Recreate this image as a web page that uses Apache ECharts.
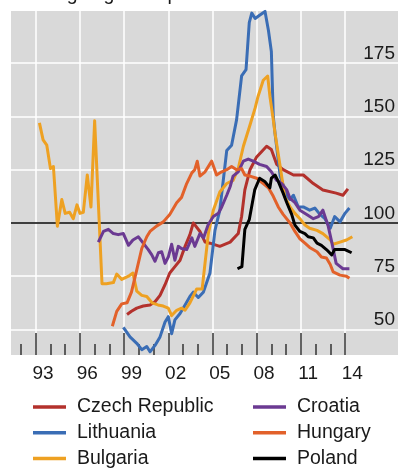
<!DOCTYPE html>
<html>
<head>
<meta charset="utf-8">
<script src="https://cdn.jsdelivr.net/npm/echarts@6/dist/echarts.min.js"></script>
<style>
  html, body { margin: 0; padding: 0; background: #ffffff; }
  #chart { width: 398px; height: 468px; }
</style>
</head>
<body>
<div id="chart"></div>
<script>
// Index values, [year, value]; the black rule marks 100.
const czechRepublic = [
  [1999.2, 57], [1999.5, 58.5], [1999.86, 60], [2000.3, 61], [2000.76, 61.5], [2001.1, 63],
  [2001.44, 66], [2001.78, 71], [2002.1, 76.5], [2002.45, 79.5], [2002.8, 82.5], [2003.14, 89],
  [2003.47, 94.5], [2003.7, 100], [2004.15, 96], [2004.5, 91], [2004.83, 90.5], [2005.5, 89],
  [2006.2, 91], [2006.75, 95], [2006.98, 103], [2007.2, 115.5], [2007.55, 125], [2008.0, 131],
  [2008.68, 136], [2009.0, 134.5], [2009.36, 127.5], [2009.8, 125], [2010.5, 122.5],
  [2011.17, 122.5], [2011.85, 118.5], [2012.5, 115.5], [2013.4, 114], [2013.86, 113], [2014.2, 116]
];
const lithuania = [
  [1998.95, 51], [1999.4, 46.5], [1999.86, 43.5], [2000.2, 40.5], [2000.54, 42], [2000.76, 39.5],
  [2001.1, 42.5], [2001.44, 46.5], [2001.78, 53.5], [2002.0, 56], [2002.23, 48], [2002.45, 54.5],
  [2002.8, 57.5], [2003.14, 61.5], [2003.47, 65.5], [2003.7, 67.5], [2004.04, 65], [2004.38, 67.5],
  [2004.83, 76.5], [2005.17, 96.5], [2005.5, 106], [2005.97, 134], [2006.3, 136.5], [2006.64, 148.5],
  [2006.98, 169], [2007.28, 172], [2007.5, 194], [2007.67, 198.5], [2007.9, 196], [2008.2, 197.5],
  [2008.57, 199.3], [2008.8, 190.5], [2009.0, 180.5], [2009.13, 150], [2009.25, 142], [2009.6, 122],
  [2010.05, 112.5], [2010.27, 111], [2010.5, 113], [2010.83, 107.5], [2011.17, 107.5], [2011.6, 106],
  [2011.95, 107], [2012.3, 104], [2012.64, 102], [2013.0, 97.5], [2013.3, 103], [2013.66, 100.5],
  [2014.0, 104.5], [2014.3, 107]
];
const bulgaria = [
  [1993.25, 147], [1993.5, 139], [1993.75, 136.5], [1994.0, 125.5], [1994.2, 126.5], [1994.47, 98.5],
  [1994.77, 111], [1995.0, 104.5], [1995.3, 105], [1995.55, 102], [1995.8, 108.5], [1996.0, 104.5],
  [1996.23, 105], [1996.5, 122.5], [1996.75, 107.5], [1997.0, 148], [1997.5, 71.5], [1997.8, 71.5],
  [1998.27, 72], [1998.5, 76], [1998.84, 73.5], [1999.3, 75], [1999.6, 76.5], [1999.86, 68],
  [2000.2, 66], [2000.54, 65.5], [2000.9, 62.5], [2001.3, 61.5], [2001.66, 61], [2002.0, 60],
  [2002.23, 56.5], [2002.57, 59], [2002.9, 60], [2003.14, 59], [2003.47, 62.5], [2003.93, 69],
  [2004.3, 69], [2004.72, 95], [2005.06, 106], [2005.5, 114.5], [2005.97, 118.5], [2006.4, 120],
  [2006.75, 125.5], [2007.1, 136], [2007.55, 146], [2007.9, 154], [2008.1, 159.5], [2008.45, 167],
  [2008.75, 169], [2008.9, 159.5], [2009.13, 148.5], [2009.25, 142], [2009.6, 126.5], [2009.9, 112.5],
  [2010.27, 107.5], [2010.6, 104.5], [2010.94, 102], [2011.28, 99], [2011.6, 97.5], [2012.1, 96.5],
  [2012.5, 95], [2013.0, 92], [2013.2, 90], [2013.66, 91], [2014.1, 92], [2014.5, 93.5]
];
const croatia = [
  [1997.25, 91], [1997.6, 96], [1997.93, 97], [1998.27, 95], [1998.6, 94.5], [1998.95, 95],
  [1999.3, 89.5], [1999.6, 92], [1999.97, 93.5], [2000.3, 90.5], [2000.64, 87.5], [2000.88, 85],
  [2001.1, 82], [2001.33, 86], [2001.55, 86.5], [2001.78, 81], [2002.0, 84], [2002.23, 90],
  [2002.45, 82.5], [2002.68, 89], [2002.9, 88], [2003.25, 87.5], [2003.6, 93], [2003.8, 89],
  [2004.15, 95], [2004.4, 93], [2004.7, 99], [2005.06, 103], [2005.4, 104.5], [2005.63, 107.5],
  [2005.97, 113], [2006.2, 117], [2006.4, 122], [2006.75, 124], [2007.1, 129], [2007.43, 130],
  [2007.77, 129], [2008.2, 127.5], [2008.68, 126.5], [2009.0, 124], [2009.36, 120], [2009.7, 118.5],
  [2010.05, 115.5], [2010.27, 111.5], [2010.6, 109.5], [2010.94, 106], [2011.4, 104], [2011.85, 102],
  [2012.2, 103], [2012.5, 106], [2012.86, 98.5], [2013.1, 91], [2013.4, 81], [2013.86, 78.5],
  [2014.3, 78.5]
];
const hungary = [
  [1998.2, 51.5], [1998.5, 58.5], [1998.84, 62], [1999.2, 62.5], [1999.5, 67.5], [1999.86, 78],
  [2000.2, 88], [2000.54, 93.5], [2000.76, 96], [2001.2, 98.5], [2001.66, 100.5], [2002.1, 104],
  [2002.57, 109.5], [2002.9, 112], [2003.25, 118.5], [2003.6, 123.5], [2003.8, 125], [2003.97, 129],
  [2004.15, 122], [2004.5, 124], [2004.95, 129], [2005.28, 122.5], [2005.63, 124], [2005.97, 125],
  [2006.3, 126.5], [2006.64, 125], [2006.98, 125.5], [2007.2, 122.5], [2007.55, 122], [2008.0, 121],
  [2008.45, 118.5], [2008.8, 116.5], [2009.13, 112.5], [2009.47, 107.5], [2009.8, 104], [2010.27, 100],
  [2010.6, 96], [2010.94, 92.5], [2011.28, 90.5], [2011.6, 88.5], [2012.1, 86.5], [2012.4, 84],
  [2012.74, 83.5], [2013.0, 80.5], [2013.2, 77], [2013.66, 75.5], [2014.1, 75], [2014.3, 74]
];
const poland = [
  [2006.7, 78.5], [2007.0, 79.5], [2007.2, 97], [2007.5, 101.5], [2007.87, 115.5], [2008.2, 121],
  [2008.55, 119.5], [2008.9, 116.5], [2009.0, 121], [2009.25, 122.5], [2009.47, 119.5], [2009.8, 114],
  [2010.05, 109.5], [2010.38, 104], [2010.6, 99], [2010.94, 96], [2011.28, 95], [2011.5, 93.5],
  [2011.85, 93], [2012.1, 90.5], [2012.4, 89.5], [2012.74, 87.5], [2013.1, 85], [2013.3, 87.5],
  [2013.66, 87.5], [2014.0, 87.5], [2014.45, 86]
];

// Axis ticks: every year short, every third year long and labelled
const minorYears = [1992, 1993, 1994, 1995, 1996, 1997, 1998, 1999, 2000, 2001, 2002, 2003,
  2004, 2005, 2006, 2007, 2008, 2009, 2010, 2011, 2012, 2013, 2014];
const majorYears = [1993, 1996, 1999, 2002, 2005, 2008, 2011, 2014];
const yearLabels = ['93', '96', '99', '02', '05', '08', '11', '14'];
const valueTicks = [50, 75, 100, 125, 150, 175];

const FONT = '"Liberation Sans", Arial, Helvetica, sans-serif';
const TEXT = '#1a1a1a';
const X_MIN = 1991.32, X_MAX = 2017.6;
const Y_MIN = 38, Y_MAX = 199.5;

const countries = [
  { name: 'Czech Republic', data: czechRepublic, color: '#b3312c' },
  { name: 'Lithuania', data: lithuania, color: '#3a6db5' },
  { name: 'Bulgaria', data: bulgaria, color: '#eea122' },
  { name: 'Croatia', data: croatia, color: '#6b3a92' },
  { name: 'Hungary', data: hungary, color: '#e2612a' },
  { name: 'Poland', data: poland, color: '#000000' }
];

// Labels sit in the middle of each labelled year
const labelPositions = majorYears.map(y => y + 0.5);

const series = countries.map((c, i) => ({
  name: c.name,
  type: 'line',
  xAxisIndex: 0,
  yAxisIndex: 0,
  data: c.data,
  showSymbol: false,
  symbol: 'none',
  color: c.color,
  lineStyle: { color: c.color, width: 3, join: 'round' },
  z: 3 + i,
  markLine: i === 0 ? {
    silent: true,
    symbol: 'none',
    label: { show: false },
    lineStyle: { color: '#000', width: 1.5, type: 'solid' },
    data: [{ yAxis: 100 }],
    z: 2
  } : undefined
}));

// Two legend columns of three rows each
const legendCommon = {
  orient: 'vertical',
  top: 397,
  height: 90,
  padding: 0,
  itemWidth: 33,
  itemHeight: 3.5,
  itemGap: 5.7,
  icon: 'rect',
  selectedMode: false,
  textStyle: { fontFamily: FONT, fontSize: 19.5, color: TEXT, lineHeight: 20, padding: [0, 0, 0, 6] }
};

const chart = echarts.init(document.getElementById('chart'), null, { renderer: 'canvas' });
chart.setOption({
  animation: false,
  backgroundColor: '#ffffff',
  title: {
    text: 'Housing in growth periods',
    left: 1,
    top: -20,
    textStyle: { fontFamily: FONT, fontSize: 19.5, fontWeight: 'normal', color: TEXT }
  },
  grid: {
    left: 11, top: 11, right: 0, bottom: 113,
    show: true, backgroundColor: '#d9d9d9', borderWidth: 0
  },
  legend: [
    Object.assign({}, legendCommon, { left: 33, data: ['Czech Republic', 'Lithuania', 'Bulgaria'] }),
    Object.assign({}, legendCommon, { left: 253, data: ['Croatia', 'Hungary', 'Poland'] })
  ],
  xAxis: [
    {
      type: 'value', position: 'bottom', min: X_MIN, max: X_MAX,
      axisLine: { show: false },
      axisTick: { show: true, inside: true, length: 11, customValues: minorYears,
        lineStyle: { color: '#333', width: 1.5 } },
      axisLabel: { show: false },
      splitLine: { show: false }
    },
    {
      type: 'value', position: 'bottom', min: X_MIN, max: X_MAX,
      axisLine: { show: false },
      axisTick: { show: true, inside: true, length: 22, customValues: majorYears,
        lineStyle: { color: '#333', width: 1.5 } },
      axisLabel: {
        show: true, customValues: labelPositions, margin: 9,
        fontFamily: FONT, fontSize: 19, color: TEXT,
        formatter: v => yearLabels[labelPositions.indexOf(v)] || ''
      },
      splitLine: { show: true, lineStyle: { color: '#ffffff', width: 1.5 } }
    }
  ],
  yAxis: {
    type: 'value', position: 'right', min: Y_MIN, max: Y_MAX,
    axisLine: { show: false },
    axisTick: { show: false, customValues: valueTicks },
    axisLabel: {
      inside: true, customValues: valueTicks, margin: 3,
      verticalAlign: 'bottom', padding: [0, 0, 0, 0],
      fontFamily: FONT, fontSize: 19, color: TEXT
    },
    splitLine: { show: true, lineStyle: { color: '#ffffff', width: 1.5 } }
  },
  series: series
});
</script>
</body>
</html>
